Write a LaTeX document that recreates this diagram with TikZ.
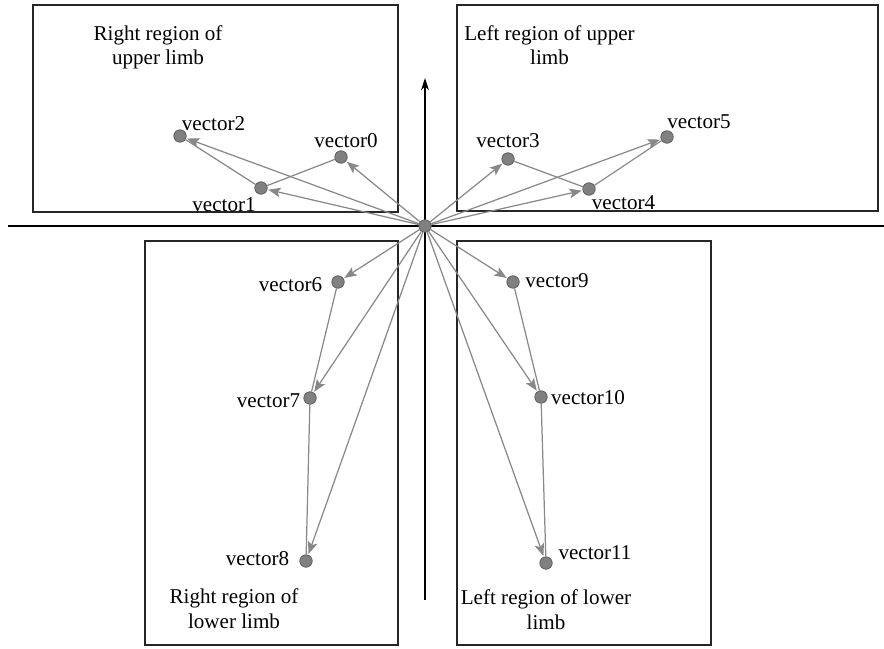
\documentclass[tikz,border=0pt]{standalone}
\usepackage{fontspec}
\setmainfont{Liberation Serif}
\usepackage{tikz}
\usetikzlibrary{arrows.meta}

\definecolor{vecgray}{HTML}{808080}
\definecolor{edgegray}{HTML}{888888}

\begin{document}
\begin{tikzpicture}[x=0.02cm,y=-0.02cm,>={Stealth[length=7pt,width=5.5pt,inset=1.5pt]},
  vec node/.style={circle,draw=gray!70!black,fill=vecgray,inner sep=0pt,minimum size=0.25cm,line width=0.4pt},
  vec label/.style={font=\fontsize{12}{14.2}\selectfont,inner sep=0pt},
  region title/.style={font=\fontsize{12}{14.2}\selectfont,inner sep=0pt},
  region/.style={draw=black!85,line width=0.7pt},
  vec edge/.style={->,color=edgegray,line width=0.7pt,shorten >=0.5pt},
  link edge/.style={color=edgegray,line width=0.7pt}]

  \useasboundingbox (0,0) rectangle (884,648);

  % four limb regions
  \draw[region] (33,5) rectangle (398,212);
  \draw[region] (457,5) rectangle (878,211);
  \draw[region] (145,241) rectangle (398,645);
  \draw[region] (457,241) rectangle (711,645);

  % axes
  \draw[black,line width=0.7pt] (8,226) -- (884,226);
  \draw[black,line width=0.7pt,-{Stealth[length=7pt,width=4.5pt]}] (425,600) -- (425,78);

  % titles, anchored at the baseline of their last line
  \node[region title,align=center,anchor=base] (rul) at (158,65) {Right region of\\upper limb};
  \node[region title,align=center,anchor=base] (lul) at (549.5,65) {Left region of upper\\limb};
  \node[region title,align=center,anchor=base] (rll) at (234,628) {Right region of\\lower limb};
  \node[region title,align=center,anchor=base] (lll) at (546,629) {Left region of lower\\limb};

  % joint vectors
  \node[vec node] (o) at (425,226) {};
  \node[vec node] (v0) at (341,157) {};
  \node[vec node] (v1) at (261,188) {};
  \node[vec node] (v2) at (180,136) {};
  \node[vec node] (v3) at (508,159) {};
  \node[vec node] (v4) at (589,189) {};
  \node[vec node] (v5) at (667,137) {};
  \node[vec node] (v6) at (338,282) {};
  \node[vec node] (v7) at (310,398) {};
  \node[vec node] (v8) at (306,561) {};
  \node[vec node] (v9) at (513,282) {};
  \node[vec node] (v10) at (541,397) {};
  \node[vec node] (v11) at (546,563) {};

  \node[vec label] (t0) at (346,141) {vector0};
  \node[vec label] (t1) at (224,204.5) {vector1};
  \node[vec label] (t2) at (213.5,123.5) {vector2};
  \node[vec label] (t3) at (508,141) {vector3};
  \node[vec label] (t4) at (623.5,202.5) {vector4};
  \node[vec label] (t5) at (699,122) {vector5};
  \node[vec label] (t6) at (290.5,284.5) {vector6};
  \node[vec label] (t7) at (268.5,401) {vector7};
  \node[vec label] (t8) at (257.5,559) {vector8};
  \node[vec label] (t9) at (557,281) {vector9};
  \node[vec label] (t10) at (588,398) {vector10};
  \node[vec label] (t11) at (595,553) {vector11};

  \path[link edge]
    (v2) edge (v1)
    (v1) edge (v0)
    (v3) edge (v4)
    (v4) edge (v5)
    (v6) edge (v7)
    (v7) edge (v8)
    (v9) edge (v10)
    (v10) edge (v11);

  \path[vec edge]
    (o) edge (v0) edge (v1) edge (v2)
        edge (v3) edge (v4) edge (v5)
        edge (v6) edge (v7) edge (v8)
        edge (v9) edge (v10) edge (v11);

\end{tikzpicture}
\end{document}
